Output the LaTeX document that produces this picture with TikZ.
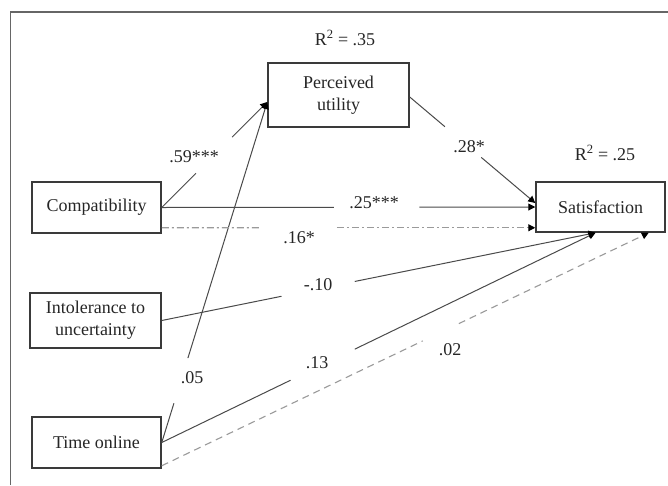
\documentclass[tikz,border=0pt]{standalone}
\usepackage{fontspec}
\setmainfont{Liberation Serif}
\usetikzlibrary{arrows.meta,calc}
\definecolor{boxline}{HTML}{3A3A3A}
\definecolor{txt}{HTML}{262626}
\definecolor{solidline}{HTML}{4A4A4A}
\definecolor{dashline}{HTML}{9A9A9A}
\definecolor{framecol}{HTML}{666666}
\begin{document}
\begin{tikzpicture}[x=1pt,y=-1pt,
  box/.style={draw=boxline, line width=1.5pt, fill=white, text=txt, align=center,
    inner sep=0pt, font=\fontsize{18}{22}\selectfont},
  lab/.style={text=txt, inner sep=0pt, font=\fontsize{18}{20}\selectfont},
  conn/.style={draw=solidline, line width=1pt},
  dashdotconn/.style={draw=dashline, line width=1.1pt, dash pattern=on 7pt off 3pt on 2pt off 3pt},
  dashconn/.style={draw=dashline, line width=1.1pt, dash pattern=on 7pt off 5pt},
  tip/.style={-{Triangle[length=7pt,width=7pt,color=black]}}
]
\useasboundingbox (0,0) rectangle (668,485);
\fill[white] (0,0) rectangle (668,485);
% frame
\draw[framecol, line width=1.1pt] (10.5,485) -- (10.5,12) -- (668,12);

% boxes
\node[box, minimum width=141pt, minimum height=64pt] (pu) at (338.5,95) {Perceived\\utility};
\node[box, minimum width=129pt, minimum height=51pt] (comp) at (96.5,207.5) {Compatibility};
\node[box, minimum width=129pt, minimum height=50pt] (sat) at (600.5,207) {Satisfaction};
\node[box, minimum width=131pt, minimum height=55pt] (intol) at (95.5,320.5) {Intolerance to\\uncertainty};
\node[box, minimum width=129pt, minimum height=51pt] (time) at (96.5,442.5) {Time online};

% R squared
\node[lab] (r1) at (345,38) {R\textsuperscript{2} = .35};
\node[lab] (r2) at (605,153) {R\textsuperscript{2} = .25};

% anchor points
\coordinate (puIn) at ($(pu.west)+(0,7)$);
\coordinate (satL1) at ($(sat.west)+(0,-4)$);
\coordinate (satL3) at ($(sat.south west)+(0,-5)$);
\coordinate (satB1) at ($(sat.south)+(-5,0)$);
\coordinate (satB2) at ($(sat.south east)+(-17,0)$);
\coordinate (compD) at ($(comp.south east)+(0,-6)$);
\coordinate (timeD) at ($(time.south east)+(0,-3)$);
\coordinate (puOut) at ($(pu.east)+(0,2)$);

% Compatibility -> Perceived utility
\draw[conn] (comp.east) -- ($(comp.east)!0.324!(puIn)$);
\draw[conn,tip] ($(comp.east)!0.667!(puIn)$) -- (puIn);
\node[lab] (l59) at (194,157) {.59***};

% Time online -> Perceived utility
\draw[conn] (time.east) -- ($(time.east)!0.115!(puIn)$);
\draw[conn,tip] ($(time.east)!0.248!(puIn)$) -- (puIn);
\node[lab] (l05) at (192,378) {.05};

% Perceived utility -> Satisfaction
\draw[conn] (puOut) -- ($(puOut)!0.28!(satL1)$);
\draw[conn,tip] ($(puOut)!0.57!(satL1)$) -- (satL1);
\node[lab] (l28) at (469,147) {.28*};

% Compatibility -> Satisfaction (solid)
\draw[conn] (comp.east) -- ($(comp.east)!0.461!(sat.west)$);
\draw[conn,tip] ($(comp.east)!0.69!(sat.west)$) -- (sat.west);
\node[lab] (l25) at (374,203) {.25***};

% Compatibility -> Satisfaction (dash-dot)
\draw[dashdotconn] (compD) -- ($(compD)!0.264!(satL3)$);
\draw[dashdotconn,tip] ($(compD)!0.469!(satL3)$) -- (satL3);
\node[lab] (l16) at (299,238) {.16*};

% Intolerance -> Satisfaction
\draw[conn] (intol.east) -- ($(intol.east)!0.276!(satB1)$);
\draw[conn,tip] ($(intol.east)!0.445!(satB1)$) -- (satB1);
\node[lab] (l10) at (318,285) {-.10};

% Time online -> Satisfaction (solid)
\draw[conn] (time.east) -- ($(time.east)!0.297!(satB1)$);
\draw[conn,tip] ($(time.east)!0.445!(satB1)$) -- (satB1);
\node[lab] (l13) at (317,363) {.13};

% Time online -> Satisfaction (dashed)
\draw[dashconn] (timeD) -- ($(timeD)!0.536!(satB2)$);
\draw[dashconn,tip] ($(timeD)!0.61!(satB2)$) -- (satB2);
\node[lab] (l02) at (450,350) {.02};
\end{tikzpicture}
\end{document}
